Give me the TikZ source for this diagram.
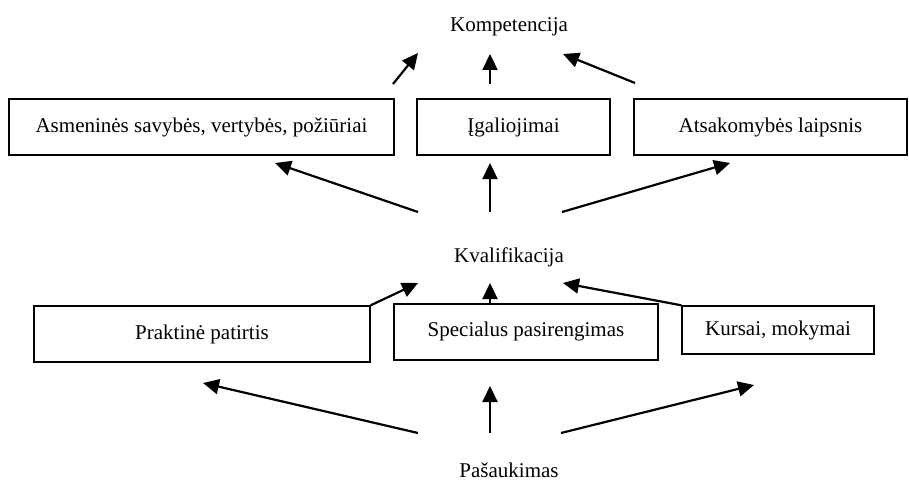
\documentclass[tikz,border=0pt]{standalone}
\usepackage{fontspec}
\setmainfont{Liberation Serif}
\usepackage{tikz}
\usetikzlibrary{arrows.meta,positioning}

\tikzset{
  blk/.style={draw,line width=1.4pt,inner sep=0pt,minimum height=56pt},
  lbl/.style={inner sep=0pt},
  arr/.style={line width=2.2pt,-{Triangle[length=16pt,width=15pt]}}
}

\begin{document}
\begin{tikzpicture}[x=1pt,y=-1pt,font=\fontsize{21}{25}\selectfont]
  \useasboundingbox (0,0) rectangle (909,481);

  % Levels
  \node[lbl] (komp) at (509,27) {Kompetencija};
  \node[lbl] (kval) at (509,257) {Kvalifikacija};
  \node[lbl] (pas) at (509,470) {Pašaukimas};

  % Upper boxes
  \node[blk,minimum width=385pt] (asm) at (201.5,127) {Asmeninės savybės, vertybės, požiūriai};
  \node[blk,minimum width=193pt] (igal) at (513.5,127) {Įgaliojimai};
  \node[blk,minimum width=273pt] (ats) at (770.5,127) {Atsakomybės laipsnis};

  % Lower boxes
  \node[blk,minimum width=336pt] (prakt) at (202,334) {Praktinė patirtis};
  \node[blk,minimum width=264pt] (spec) at (526,332) {\raisebox{5pt}{Specialus pasirengimas}};
  \node[blk,minimum width=192pt,minimum height=48pt] (kurs) at (778,330) {Kursai, mokymai};

  % Free arrow ends
  \foreach \n/\x/\y in {ka/393/84, kb/418/53, kc/490/84, kd/490/54, ke/635/83, kf/563/54,
                        qa/418/212, qb/275/163, qc/490/212, qd/490/163, qe/562/212, qf/730/163,
                        ra/418/283, rb/490/283, rc/563/283,
                        sa/418/433, sb/203/383, sc/490/433, sd/490/386, se/561/433, sf/754/385}
    \coordinate (\n) at (\x,\y);

  % To Kompetencija
  \draw[arr] (ka) -- (kb);
  \draw[arr] (kc) -- (kd);
  \draw[arr] (ke) -- (kf);

  % From Kvalifikacija up
  \draw[arr] (qa) -- (qb);
  \draw[arr] (qc) -- (qd);
  \draw[arr] (qe) -- (qf);

  % To Kvalifikacija
  \draw[arr] (prakt.north east) -- (ra);
  \draw[arr] (spec.north -| rb) -- (rb);
  \draw[arr] (kurs.north west) -- (rc);

  % From Pasaukimas up
  \draw[arr] (sa) -- (sb);
  \draw[arr] (sc) -- (sd);
  \draw[arr] (se) -- (sf);
\end{tikzpicture}
\end{document}
